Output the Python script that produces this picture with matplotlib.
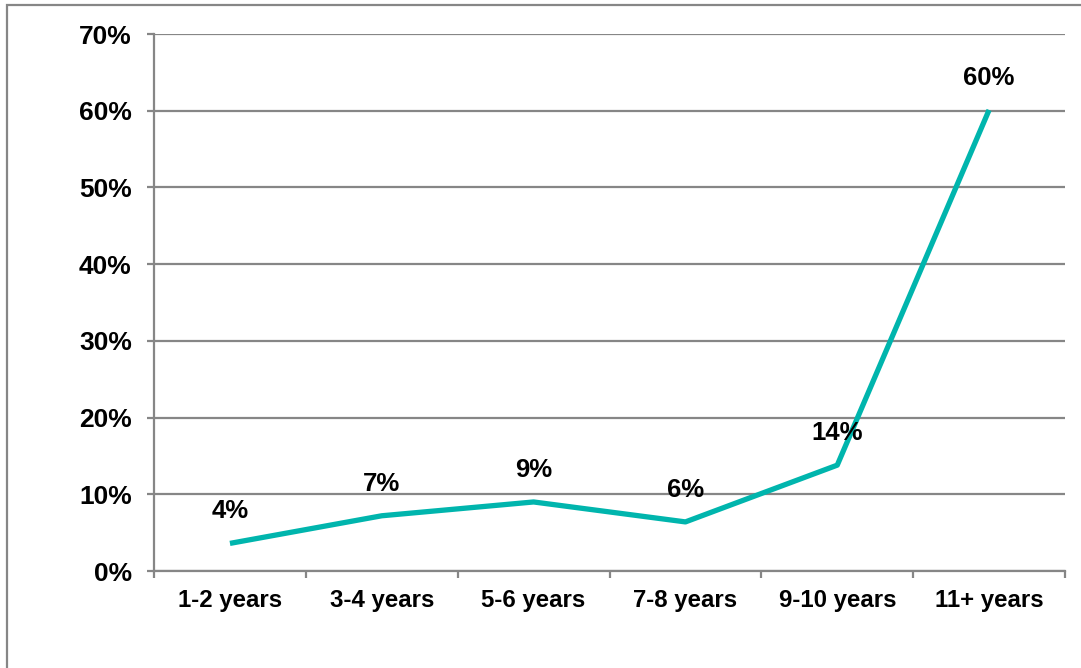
import matplotlib.pyplot as plt
from matplotlib.patches import Rectangle
from matplotlib.ticker import FuncFormatter, FixedLocator

plt.rcParams['font.family'] = ['Liberation Sans', 'DejaVu Sans']
plt.rcParams['font.weight'] = 'bold'

# 数据
categories = ['1-2 years', '3-4 years', '5-6 years', '7-8 years', '9-10 years', '11+ years']
shares = [3.6, 7.2, 9.0, 6.4, 13.8, 60.1]

grey = '#868686'
teal = '#00b5ad'

fig = plt.figure(figsize=(10.81, 6.68), dpi=100)
ax = fig.add_axes([0.1425, 0.1452, 0.8427, 0.8039])

# 外框
fig.patches.append(Rectangle((7 / 1081, -0.1), 1.1, 1 - 5 / 668 + 0.1,
                             transform=fig.transFigure, fill=False,
                             edgecolor=grey, linewidth=1.6))

x = list(range(len(categories)))
ax.plot(x, shares, color=teal, linewidth=3.8, solid_capstyle='butt', zorder=3)

for xi, v in zip(x, shares):
    ax.annotate(f'{v:.0f}%', (xi, v), xytext=(0, 23), textcoords='offset points',
                ha='center', va='center', fontsize=18.5, fontweight='bold')

ax.set_xlim(-0.5, len(categories) - 0.5)
ax.set_ylim(0, 70)
ax.set_yticks(range(0, 71, 10))
ax.yaxis.set_major_formatter(FuncFormatter(lambda v, p: f'{v:.0f}%'))
ax.set_xticks(x)
ax.set_xticklabels(categories)
ax.xaxis.set_minor_locator(FixedLocator([i - 0.5 for i in range(len(categories) + 1)]))

ax.grid(axis='y', color=grey, linewidth=1.6)
ax.set_axisbelow(True)
for s in ['top', 'right']:
    ax.spines[s].set_visible(False)
for s in ['left', 'bottom']:
    ax.spines[s].set_color(grey)
    ax.spines[s].set_linewidth(1.6)

ax.tick_params(axis='y', length=5, width=1.6, color=grey, pad=11, labelsize=19)
ax.tick_params(axis='x', which='major', length=0, pad=13, labelsize=17.3)
ax.tick_params(axis='x', which='minor', length=5, width=1.6, color=grey)

fig.savefig('out.png', dpi=100)
